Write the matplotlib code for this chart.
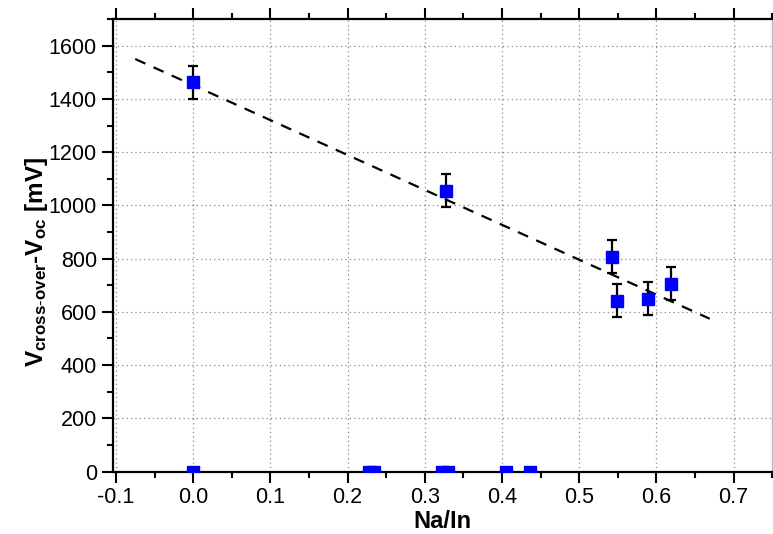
import matplotlib
matplotlib.use("Agg")
import matplotlib.pyplot as plt
from matplotlib.ticker import MultipleLocator

plt.rcParams['font.family'] = ['Liberation Sans', 'DejaVu Sans']
plt.rcParams['mathtext.fontset'] = 'custom'
plt.rcParams['mathtext.rm'] = 'Liberation Sans'
plt.rcParams['mathtext.bf'] = 'Liberation Sans:bold'
plt.rcParams['mathtext.it'] = 'Liberation Sans'
plt.rcParams['mathtext.default'] = 'rm'

# Measured points with error bars
na_in = [0.0, 0.327, 0.543, 0.549, 0.589, 0.619]
v_diff = [1463, 1055, 808, 642, 650, 706]
v_err = [61, 62, 62, 62, 62, 62]

# Samples plotted on the x axis (value 0)
na_in_zero = [0.0, 0.228, 0.234, 0.322, 0.330, 0.405, 0.436]
v_zero = [0, 0, 0, 0, 0, 0, 0]

# Linear trend line
fit_intercept = 1452
fit_slope = -1312
fit_x = [-0.075, 0.669]
fit_y = [fit_intercept + fit_slope * x for x in fit_x]

fig = plt.figure(figsize=(7.73, 5.34), dpi=100)
ax = fig.add_axes([0.146, 0.117, 0.853, 0.847])

ax.plot(fit_x, fit_y, linestyle=(0, (5, 4)), color='black', linewidth=1.6, zorder=3)
ax.errorbar(na_in, v_diff, yerr=v_err, fmt='s', color='#0000ff', markersize=8.6,
            ecolor='black', elinewidth=1.6, capsize=3.6, capthick=1.6, zorder=4)
ax.plot(na_in_zero, v_zero, 's', color='#0000ff', markersize=8.6, zorder=4, clip_on=True)

ax.set_xlim(-0.104, 0.75)
ax.set_ylim(0, 1700)
ax.xaxis.set_minor_locator(MultipleLocator(0.05))
ax.yaxis.set_major_locator(MultipleLocator(200))
ax.yaxis.set_minor_locator(MultipleLocator(100))
ax.set_xticks([-0.1, 0.0, 0.1, 0.2, 0.3, 0.4, 0.5, 0.6, 0.7])
ax.set_xticklabels(['-0.1', '0.0', '0.1', '0.2', '0.3', '0.4', '0.5', '0.6', '0.7'])

ax.grid(True, which='major', linestyle=(0, (1, 2.5)), color='#888888', linewidth=0.9)
ax.set_axisbelow(True)

for side in ['left', 'bottom', 'top']:
    ax.spines[side].set_linewidth(1.6)
    ax.spines[side].set_color('black')
ax.spines['right'].set_color('#bbbbbb')
ax.spines['right'].set_linewidth(1.0)

ax.tick_params(axis='both', which='major', direction='out', length=8, width=1.5,
               labelsize=15.5, top=True, right=False, labeltop=False)
ax.tick_params(axis='both', which='minor', direction='out', length=4.5, width=1.5,
               top=True, right=False)

ax.set_xlabel('Na/In', fontsize=17, fontweight='bold', labelpad=1)
ax.set_ylabel(r'V$_{\mathregular{cross\text{-}over}}$-V$_{\mathregular{oc}}$ [mV]',
              fontsize=17.5, fontweight='bold')
ax.yaxis.set_label_coords(-0.096, 0.463)

fig.savefig('out.png', dpi=100)
